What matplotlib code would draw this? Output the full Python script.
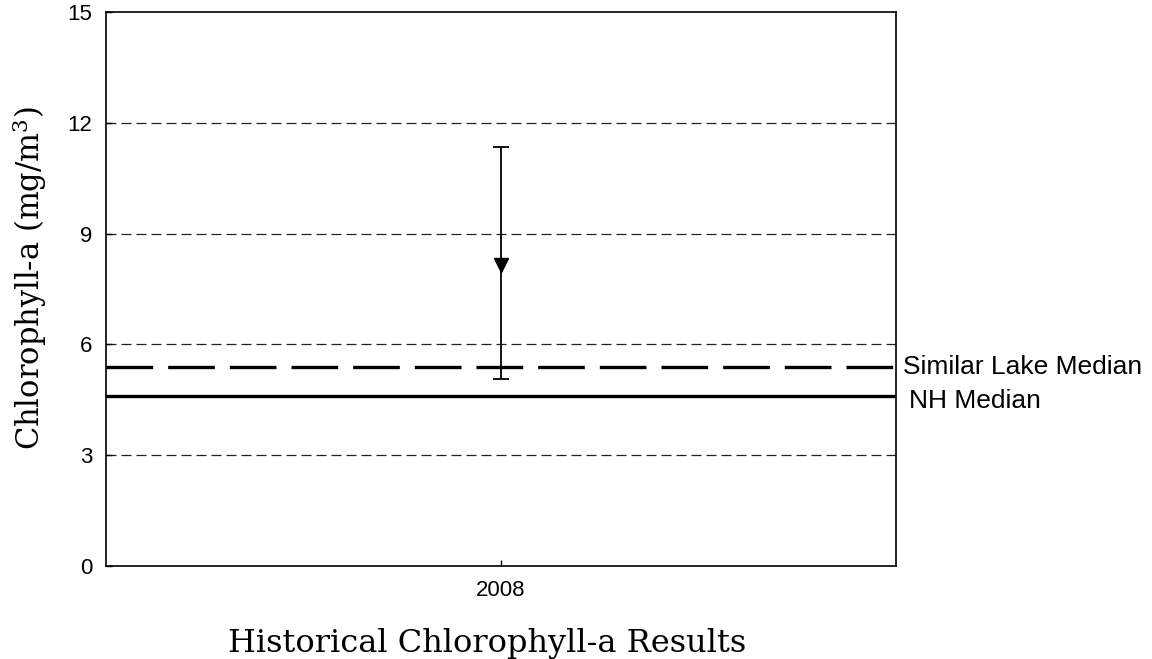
import numpy as np
import matplotlib.pyplot as plt

# values
years = [2008]
chl_mean = [8.15]
chl_low = [5.05]
chl_high = [11.35]
similar_lake_median = 5.38
nh_median = 4.6
y_ticks = [0, 3, 6, 9, 12, 15]

plt.rcParams['mathtext.fontset'] = 'dejavuserif'

fig = plt.figure(figsize=(11.52, 6.59), dpi=100)
ax = fig.add_axes([0.092, 0.141, 0.686, 0.841])

yerr = [np.array(chl_mean) - np.array(chl_low), np.array(chl_high) - np.array(chl_mean)]
ax.errorbar(years, chl_mean, yerr=yerr, fmt='v', color='black', ms=10,
            elinewidth=1.3, capsize=6, capthick=1.3, zorder=4)

ax.axhline(similar_lake_median, color='black', lw=2.4, dashes=(14, 4.5), zorder=3)
ax.axhline(nh_median, color='black', lw=2.4, zorder=3)

for g in y_ticks[1:-1]:
    ax.axhline(g, color='#222222', lw=0.9, dashes=(8, 4), zorder=1)

ax.set_xlim(2007, 2009)
ax.set_ylim(0, 15)
ax.set_xticks(years)
ax.set_xticklabels([str(y) for y in years])
ax.set_yticks(y_ticks)
ax.tick_params(direction='in', length=4, width=1, labelsize=16, pad=10)
for s in ax.spines.values():
    s.set_linewidth(1.2)

ax.text(1.008, similar_lake_median, 'Similar Lake Median', transform=ax.get_yaxis_transform(),
        va='center', ha='left', fontsize=19, family='Liberation Sans')
ax.text(1.016, nh_median - 0.12, 'NH Median', transform=ax.get_yaxis_transform(),
        va='center', ha='left', fontsize=19, family='Liberation Sans')

ax.set_ylabel('Chlorophyll-a (mg/m$^3$)', family='DejaVu Serif', fontsize=22, labelpad=14)
ax.set_xlabel('Historical Chlorophyll-a Results', family='DejaVu Serif', fontsize=23, labelpad=20)
ax.xaxis.set_label_coords(0.482, -0.112)
ax.yaxis.set_label_coords(-0.072, 0.52)

for lbl in ax.get_xticklabels() + ax.get_yticklabels():
    lbl.set_family('Liberation Sans')

fig.savefig('out.png', dpi=100)
